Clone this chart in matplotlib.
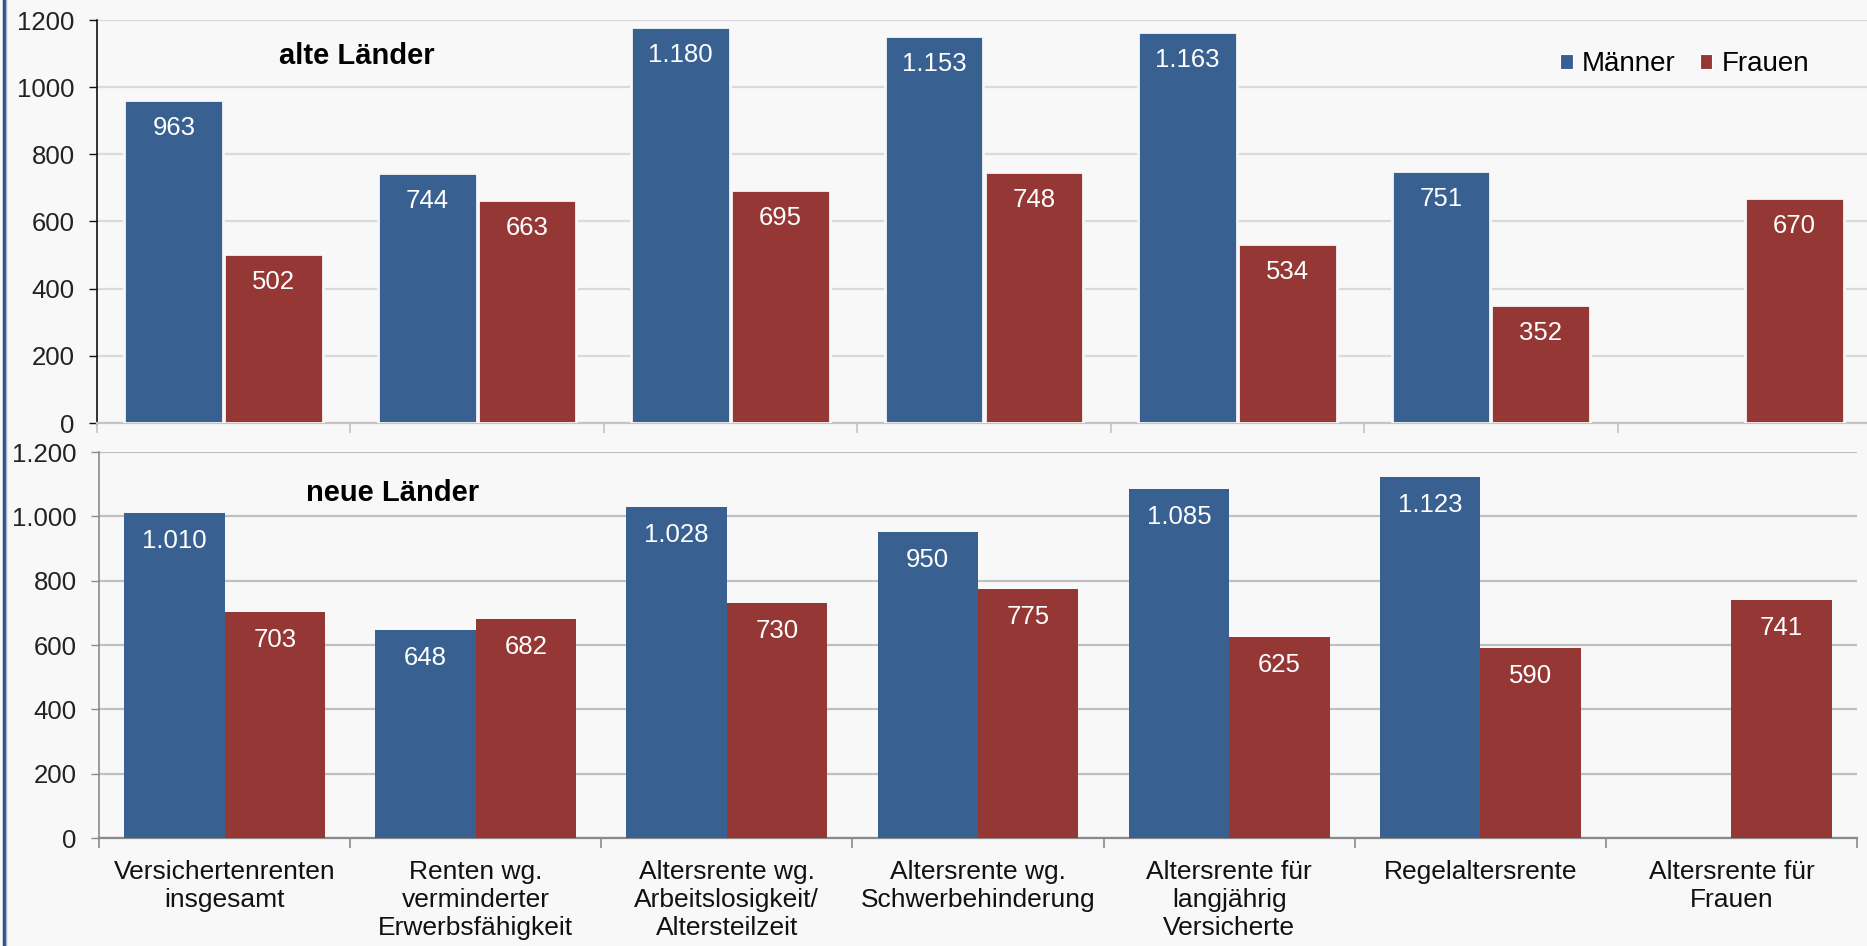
import matplotlib
matplotlib.use("Agg")
import matplotlib.pyplot as plt
from matplotlib.patches import Patch
from matplotlib.lines import Line2D
import numpy as np

plt.rcParams['font.family'] = ['Liberation Sans', 'DejaVu Sans']

categories = [
    "Versichertenrenten\ninsgesamt",
    "Renten wg.\nverminderter\nErwerbsfähigkeit",
    "Altersrente wg.\nArbeitslosigkeit/\nAltersteilzeit",
    "Altersrente wg.\nSchwerbehinderung",
    "Altersrente für\nlangjährig\nVersicherte",
    "Regelaltersrente",
    "Altersrente für\nFrauen",
]
alt_maenner = [963, 744, 1180, 1153, 1163, 751, None]
alt_frauen = [502, 663, 695, 748, 534, 352, 670]
neu_maenner = [1010, 648, 1028, 950, 1085, 1123, None]
neu_frauen = [703, 682, 730, 775, 625, 590, 741]

top_ticks = [0, 200, 400, 600, 800, 1000, 1200]
top_ticklabels = ["0", "200", "400", "600", "800", "1000", "1200"]
bottom_ticklabels = ["0", "200", "400", "600", "800", "1.000", "1.200"]

BLUE = "#386192"
RED = "#953735"
BG = "#f8f8f8"

W, H = 1867, 946
fig = plt.figure(figsize=(W / 100, H / 100), dpi=100, facecolor=BG)


def fmt(v):
    return f"{v:,}".replace(",", ".")


def panel(rect, men, women, ticklabels, grid_color, yaxis_color, xaxis_color,
          width, offset, edge, show_labels):
    ax = fig.add_axes(rect)
    ax.set_facecolor(BG)
    x = np.arange(len(categories))
    for vals, off, col in ((men, -offset, BLUE), (women, offset, RED)):
        for xi, v in zip(x, vals):
            if v is None:
                continue
            ax.bar(xi + off, v, width=width, color=col,
                   edgecolor=edge if edge else col,
                   linewidth=2.0 if edge else 0, zorder=3)
            ax.annotate(fmt(v), (xi + off, v), xytext=(0, -28),
                        textcoords='offset pixels', ha='center', va='center',
                        color='white', fontsize=18.5, zorder=4)
    ax.set_xlim(-0.5, len(categories) - 0.5)
    ax.set_ylim(0, 1200)
    ax.set_yticks(top_ticks)
    ax.set_yticklabels(ticklabels, fontsize=18.5, color='#222222')
    ax.yaxis.grid(True, color=grid_color, linewidth=1.6, zorder=0)
    ax.set_axisbelow(True)
    ax.tick_params(axis='y', length=6, width=1, color=yaxis_color, pad=10)
    ax.set_xticks(np.arange(-0.5, len(categories)), minor=True)
    ax.tick_params(axis='x', which='minor', length=7, width=1.2, color=xaxis_color)
    ax.set_xticks(x)
    if show_labels:
        ax.set_xticklabels(categories, fontsize=19, color='#111111',
                           linespacing=1.2)
    else:
        ax.set_xticklabels([])
    ax.tick_params(axis='x', which='major', length=0, pad=16)
    for s in ('top', 'right'):
        ax.spines[s].set_visible(False)
    ax.spines['left'].set_color(yaxis_color)
    ax.spines['left'].set_linewidth(1.2)
    ax.spines['bottom'].set_color(xaxis_color)
    ax.spines['bottom'].set_linewidth(1.6)
    return ax


# upper panel: alte Länder
top_rect = [97 / W, 1 - 423 / H, 1774 / W, (423 - 20) / H]
ax1 = panel(top_rect, alt_maenner, alt_frauen, top_ticklabels,
            grid_color='#dadada', yaxis_color='#111111', xaxis_color='#c4c4c4',
            width=0.39, offset=0.197, edge=BG, show_labels=False)

# lower panel: neue Länder
bot_rect = [99 / W, 1 - 838 / H, 1758 / W, (838 - 452) / H]
ax2 = panel(bot_rect, neu_maenner, neu_frauen, bottom_ticklabels,
            grid_color='#c0c0c0', yaxis_color='#8a8a8a', xaxis_color='#8a8a8a',
            width=0.4, offset=0.2, edge=None, show_labels=True)

fig.text(357 / W, 1 - 64 / H, "alte Länder", fontsize=21, fontweight='bold',
         ha='center', va='baseline', color='black')
fig.text(393 / W, 1 - 501 / H, "neue Länder", fontsize=21, fontweight='bold',
         ha='center', va='baseline', color='black')

handles = [Patch(facecolor=BLUE, edgecolor='white', linewidth=0.8),
           Patch(facecolor=RED, edgecolor='white', linewidth=0.8)]
fig.legend(handles, ["Männer", "Frauen"], loc='center left',
           bbox_to_anchor=(1560 / W, 1 - 64 / H), ncol=2, frameon=False,
           fontsize=20, handlelength=0.45, handleheight=0.45,
           handletextpad=0.35, columnspacing=0.85, borderpad=0,
           borderaxespad=0)

# left frame edge
fig.add_artist(Line2D([3.5 / W, 3.5 / W], [0, 1], color='#2b5286',
                      linewidth=2.5, transform=fig.transFigure))
fig.add_artist(Line2D([6 / W, 6 / W], [0, 1], color='#9fb3cc',
                      linewidth=1.0, transform=fig.transFigure))

fig.savefig("out.png", dpi=100, facecolor=BG)
